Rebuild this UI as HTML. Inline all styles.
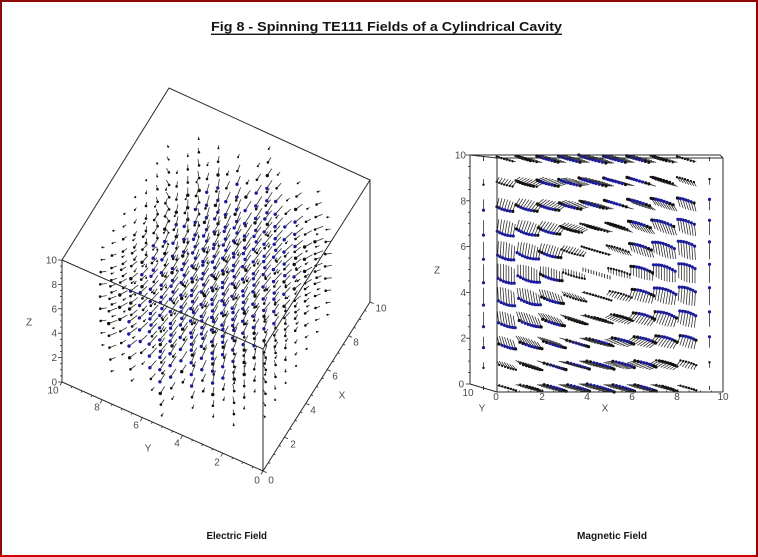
<!DOCTYPE html>
<html>
<head>
<meta charset="utf-8">
<style>
html,body{margin:0;padding:0;background:#fff;}
svg{display:block;}
.t{font-family:"Liberation Sans",Arial,sans-serif;font-size:10px;fill:#4a4a4a;}
</style>
</head>
<body>
<svg id="s" width="758" height="557" viewBox="0 0 758 557" xmlns="http://www.w3.org/2000/svg">
<rect width="758" height="557" fill="#ffffff"/>
<!-- frame -->
<rect x="0" y="0" width="758" height="2" fill="#8e0a0a"/>
<rect x="0" y="0" width="2" height="557" fill="#8e0a0a"/>
<rect x="0" y="555" width="758" height="2" fill="#d00000"/>
<rect x="756" y="0" width="2" height="557" fill="#9a0000"/>

<!-- title -->
<text x="211" y="31" font-family="'Liberation Sans Narrow','Liberation Sans',sans-serif" font-weight="bold" font-size="13" textLength="351" lengthAdjust="spacingAndGlyphs" fill="#151515">Fig 8 - Spinning TE111 Fields of a Cylindrical Cavity</text>
<rect x="211" y="33.6" width="351" height="1.4" fill="#151515"/>

<!-- captions -->
<text x="206.5" y="539" font-family="'Liberation Sans Narrow','Liberation Sans',sans-serif" font-weight="bold" font-size="10" textLength="60.5" lengthAdjust="spacingAndGlyphs" fill="#151515">Electric Field</text>
<text x="577" y="539" font-family="'Liberation Sans Narrow','Liberation Sans',sans-serif" font-weight="bold" font-size="10" textLength="70" lengthAdjust="spacingAndGlyphs" fill="#151515">Magnetic Field</text>

<!-- arrows layer (generated) -->
<g id="arrL"></g>
<g id="arrR"></g>

<!-- LEFT CUBE -->
<g stroke="#2a2a2a" stroke-width="1" fill="none">
  <polyline points="62,260 169,88 370,180 263,349 62,260"/>
  <line x1="62" y1="260" x2="62" y2="382"/>
  <line x1="263" y1="349" x2="263" y2="471"/>
  <line x1="370" y1="180" x2="370" y2="302"/>
  <line x1="62" y1="382" x2="263" y2="471"/>
  <line x1="263" y1="471" x2="370" y2="302"/>
</g>
<g id="ticksL" stroke="#2a2a2a" stroke-width="0.8"></g>

<!-- left Z labels -->
<text class="t" x="57" y="263.5" text-anchor="end">10</text>
<text class="t" x="57" y="288" text-anchor="end">8</text>
<text class="t" x="57" y="312.3" text-anchor="end">6</text>
<text class="t" x="57" y="336.7" text-anchor="end">4</text>
<text class="t" x="57" y="361.1" text-anchor="end">2</text>
<text class="t" x="57" y="385.5" text-anchor="end">0</text>
<text class="t" x="29" y="325.5" text-anchor="middle">Z</text>
<!-- left Y labels -->
<text class="t" x="53" y="393.5" text-anchor="middle">10</text>
<text class="t" x="97" y="410.5" text-anchor="middle">8</text>
<text class="t" x="136" y="428.5" text-anchor="middle">6</text>
<text class="t" x="177" y="446.5" text-anchor="middle">4</text>
<text class="t" x="217" y="465.5" text-anchor="middle">2</text>
<text class="t" x="257" y="483.5" text-anchor="middle">0</text>
<text class="t" x="148" y="451.5" text-anchor="middle">Y</text>
<!-- left X labels -->
<text class="t" x="271" y="483.5" text-anchor="middle">0</text>
<text class="t" x="293" y="447.5" text-anchor="middle">2</text>
<text class="t" x="313" y="413.5" text-anchor="middle">4</text>
<text class="t" x="335" y="379.5" text-anchor="middle">6</text>
<text class="t" x="356" y="345.5" text-anchor="middle">8</text>
<text class="t" x="381" y="311.5" text-anchor="middle">10</text>
<text class="t" x="342" y="398.5" text-anchor="middle">X</text>

<!-- RIGHT BOX -->
<g stroke="#2a2a2a" stroke-width="1" fill="none">
  <line x1="470" y1="155" x2="470" y2="384"/>
  <line x1="497" y1="158" x2="497" y2="392"/>
  <line x1="470" y1="384" x2="497" y2="392"/>
  <line x1="497" y1="392" x2="723" y2="392"/>
  <line x1="723" y1="158" x2="723" y2="392"/>
  <line x1="470" y1="155" x2="720" y2="155"/>
  <line x1="497" y1="158" x2="723" y2="158"/>
  <line x1="720" y1="155" x2="723" y2="158"/>
  <line x1="470" y1="155" x2="497" y2="158"/>
</g>
<g id="ticksR" stroke="#2a2a2a" stroke-width="0.8"></g>
<!-- right Z labels -->
<text class="t" x="466" y="158.5" text-anchor="end">10</text>
<text class="t" x="466" y="204.3" text-anchor="end">8</text>
<text class="t" x="466" y="250.1" text-anchor="end">6</text>
<text class="t" x="466" y="295.9" text-anchor="end">4</text>
<text class="t" x="466" y="341.7" text-anchor="end">2</text>
<text class="t" x="464" y="387.5" text-anchor="end">0</text>
<text class="t" x="437" y="273.5" text-anchor="middle">Z</text>
<!-- right X / Y labels -->
<text class="t" x="468" y="396" text-anchor="middle">10</text>
<text class="t" x="496" y="400" text-anchor="middle">0</text>
<text class="t" x="542" y="400" text-anchor="middle">2</text>
<text class="t" x="587" y="400" text-anchor="middle">4</text>
<text class="t" x="632" y="400" text-anchor="middle">6</text>
<text class="t" x="677" y="400" text-anchor="middle">8</text>
<text class="t" x="723" y="400" text-anchor="middle">10</text>
<text class="t" x="482" y="411.5" text-anchor="middle">Y</text>
<text class="t" x="605" y="411.5" text-anchor="middle">X</text>
</svg>

<script>
(function(){
  var fact=[1,1,2,6,24,120,720,5040,40320,362880,3628800,39916800,479001600,6227020800];
  function J1(x){var s=0;for(var m=0;m<10;m++){s+=(m%2?-1:1)*Math.pow(x/2,2*m+1)/(fact[m]*fact[m+1]);}return s;}
  var a=5,kc=1.8412/a,beta=Math.PI/10,h=1e-4;
  function psiC(u,v){var r=Math.hypot(u,v);if(r<1e-12)return 0;return J1(kc*r)*u/r;}
  function psiS(u,v){var r=Math.hypot(u,v);if(r<1e-12)return 0;return J1(kc*r)*v/r;}
  function grad(f,u,v){return [(f(u+h,v)-f(u-h,v))/(2*h),(f(u,v+h)-f(u,v-h))/(2*h)];}
  function f1(n){return n.toFixed(1);}

  // ---------- LEFT: Electric field ----------
  function PL(x,y,z){return [263+10.7*x-20.1*y, 471-16.9*x-8.9*y-12.2*z];}
  var E=[],maxE=0,x,y,z;
  for(x=0;x<=10;x++)for(y=0;y<=10;y++){
    var u=x-5,v=y-5; if(u*u+v*v>25.0001)continue;
    var g=grad(psiS,u,v);
    for(z=0;z<=10;z++){
      var s=Math.sin(beta*z);
      var ex=-g[1]*s, ey=g[0]*s;
      var m=Math.hypot(ex,ey);
      if(m>maxE)maxE=m;
      E.push([x,y,z,ex,ey,0,m]);
    }
  }
  E.sort(function(p,q){return (q[0]+q[1]-q[2]*0.6)-(p[0]+p[1]-p[2]*0.6);});
  var sc=0.8/maxE, out=[];
  E.forEach(function(p){
    if(p[6]/maxE<0.02)return;
    var hx=p[3]*sc/2, hy=p[4]*sc/2, hz=p[5]*sc/2;
    var A=PL(p[0]-hx,p[1]-hy,p[2]-hz), B=PL(p[0]+hx,p[1]+hy,p[2]+hz);
    var rel=p[6]/maxE;
    out.push('<line x1="'+f1(A[0])+'" y1="'+f1(A[1])+'" x2="'+f1(B[0])+'" y2="'+f1(B[1])+'" stroke="#333" stroke-width="0.8"/>');
    var col = rel>0.55 ? '#1c1c9a' : '#101010';
    var rr = rel>0.5 ? 1.7 : (rel>0.25 ? 1.3 : 1.0);
    out.push('<circle cx="'+f1(B[0])+'" cy="'+f1(B[1])+'" r="'+rr+'" fill="'+col+'"/>');
  });
  document.getElementById('arrL').innerHTML=out.join('');

  // ---------- RIGHT: Magnetic field ----------
  function PR(x,y,z){return [497+22.6*x-2.7*y, 392-22.9*z-0.8*y];}
  var H=[],maxH=0;
  for(x=0;x<=10;x++)for(y=0;y<=10;y++){
    var u2=x-5,v2=y-5; if(u2*u2+v2*v2>25.0001)continue;
    var gc=grad(psiC,u2,v2), pc=psiC(u2,v2);
    for(z=0;z<=10;z++){
      var c=Math.cos(beta*z), sn=Math.sin(beta*z);
      var hx2=beta*c*gc[0], hy2=beta*c*gc[1], hz2=kc*kc*pc*sn;
      var m2=Math.sqrt(hx2*hx2+hy2*hy2+hz2*hz2);
      if(m2>maxH)maxH=m2;
      H.push([x,y,z,hx2,hy2,hz2,m2]);
    }
  }
  H.sort(function(p,q){return q[1]-p[1];});
  var sc2=0.8/maxH, out2=[];
  H.forEach(function(p){
    var rel=p[6]/maxH;
    var hx=p[3]*sc2/2, hy=p[4]*sc2/2, hz=p[5]*sc2/2;
    var A=PR(p[0]-hx,p[1]-hy,p[2]-hz), B=PR(p[0]+hx,p[1]+hy,p[2]+hz);
    if(rel<0.03){
      out2.push('<line x1="'+f1(A[0])+'" y1="'+f1(A[1]-2)+'" x2="'+f1(A[0])+'" y2="'+f1(A[1]+2)+'" stroke="#222" stroke-width="0.9"/>');
      return;
    }
    out2.push('<line x1="'+f1(A[0])+'" y1="'+f1(A[1])+'" x2="'+f1(B[0])+'" y2="'+f1(B[1])+'" stroke="#262626" stroke-width="0.75"/>');
    var col = rel>0.55 ? '#1c1c9a' : '#101010';
    var rr = rel>0.4 ? 1.6 : 1.2;
    out2.push('<circle cx="'+f1(B[0])+'" cy="'+f1(B[1])+'" r="'+rr+'" fill="'+col+'"/>');
  });
  document.getElementById('arrR').innerHTML=out2.join('');

  // ---------- ticks ----------
  var t=[],i,P,L;
  for(i=0;i<=20;i++){var zz=i*0.5, yy=382-12.2*zz; L=(i%4==0)?4:2;
    t.push('<line x1="62" y1="'+f1(yy)+'" x2="'+(62-L)+'" y2="'+f1(yy)+'"/>');}
  for(i=0;i<=20;i++){var yv=i*0.5; P=PL(0,yv,0); L=(i%4==0)?4:2;
    t.push('<line x1="'+f1(P[0])+'" y1="'+f1(P[1])+'" x2="'+f1(P[0]-0.53*L)+'" y2="'+f1(P[1]+0.85*L)+'"/>');}
  for(i=0;i<=20;i++){var xv=i*0.5; P=PL(xv,0,0); L=(i%4==0)?4:2;
    t.push('<line x1="'+f1(P[0])+'" y1="'+f1(P[1])+'" x2="'+f1(P[0]+0.91*L)+'" y2="'+f1(P[1]+0.40*L)+'"/>');}
  document.getElementById('ticksL').innerHTML=t.join('');
  var t2=[];
  for(i=0;i<=20;i++){var zy=384-22.9*i*0.5; L=(i%4==0)?4:2;
    t2.push('<line x1="470" y1="'+f1(zy)+'" x2="'+(470-L)+'" y2="'+f1(zy)+'"/>');}
  for(i=0;i<=20;i++){var xx=497+22.6*i*0.5; L=(i%4==0)?3:1.5;
    t2.push('<line x1="'+f1(xx)+'" y1="392" x2="'+f1(xx)+'" y2="'+(392-L)+'"/>');}
  document.getElementById('ticksR').innerHTML=t2.join('');
})();
</script>
</body>
</html>
